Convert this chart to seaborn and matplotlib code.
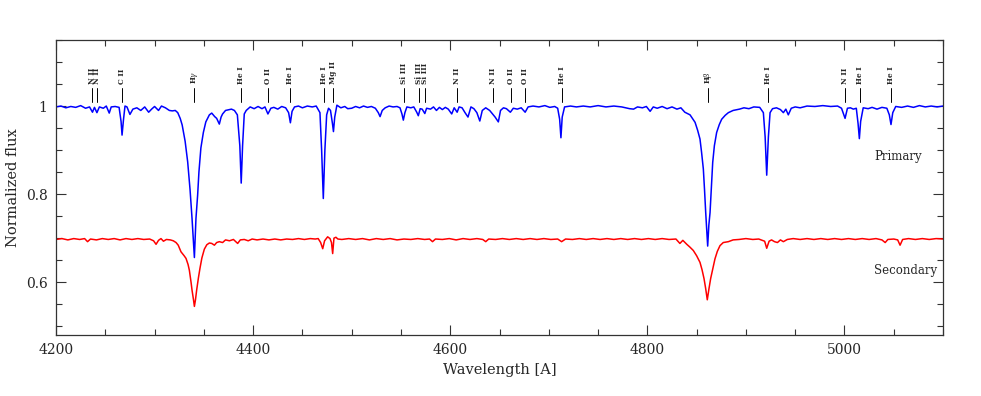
import matplotlib
matplotlib.use("Agg")
import matplotlib.pyplot as plt
import seaborn as sns
import pandas as pd
from matplotlib.ticker import MultipleLocator

# --- spectra (wavelength [A], normalized flux) ---
prim_wave = [
    4200, 4205, 4210, 4215, 4220, 4225, 4230, 4234, 4237, 4239, 4241.5, 4244, 4248, 4251, 4254, 4256,
    4260, 4264, 4266, 4267, 4268.5, 4270, 4272, 4275, 4278, 4282, 4286, 4290, 4294, 4297, 4300, 4304,
    4307, 4311, 4315, 4318, 4321, 4323.5, 4326, 4328, 4331, 4333.6, 4336, 4338, 4340.4, 4342, 4343.7,
    4345, 4347, 4349.5, 4352, 4355.6, 4358, 4361, 4363, 4365.7, 4367.5, 4369, 4372, 4375.8, 4378, 4381,
    4384, 4386.5, 4387.9, 4389.3, 4391, 4393, 4397, 4401, 4405, 4409, 4412, 4415, 4418, 4421, 4425,
    4429, 4433, 4436, 4437.8, 4439.5, 4442, 4446, 4450, 4455, 4460, 4464, 4467.8, 4469.5, 4471.2,
    4472.8, 4474.6, 4476.5, 4478.5, 4480.5, 4481.5, 4482.8, 4485, 4489, 4493, 4496, 4500, 4504, 4508,
    4512, 4516, 4520, 4524, 4527, 4528.8, 4531, 4534, 4538, 4542, 4546, 4549, 4551, 4552.4, 4554, 4556,
    4560, 4563, 4566, 4567.6, 4569.5, 4571.5, 4574.2, 4576, 4580, 4583, 4586, 4589, 4592, 4595, 4598,
    4601.5, 4604, 4607, 4609, 4612, 4615, 4618, 4621, 4624, 4627, 4630, 4632.5, 4636, 4640, 4643,
    4645.5, 4648.8, 4651, 4654, 4657, 4661, 4664, 4668, 4672, 4676, 4679, 4684, 4690, 4696, 4701, 4706,
    4709, 4711, 4712.3, 4713.6, 4716, 4722, 4728, 4735, 4742, 4750, 4758, 4766, 4774, 4782, 4786, 4790,
    4795, 4799, 4802.8, 4806, 4810, 4815, 4820, 4825, 4830, 4834, 4838, 4843.3, 4848.4, 4851, 4853.4,
    4855, 4856.8, 4858, 4859.2, 4861.2, 4862.4, 4863.6, 4865, 4866.3, 4868, 4870.3, 4873, 4875.4, 4879,
    4882.2, 4887, 4893.5, 4898, 4903, 4908, 4914, 4917.7, 4919.5, 4921.1, 4922.8, 4924.5, 4927, 4931,
    4935, 4938, 4940.5, 4943, 4946, 4950, 4955, 4962, 4970, 4978, 4986, 4993, 4997, 5000.6, 5003, 5006,
    5009, 5012, 5013.8, 5015.1, 5016.4, 5019, 5024, 5028, 5033, 5038, 5043, 5045.5, 5047.2, 5049, 5052,
    5058, 5064, 5070, 5076, 5082, 5088, 5094, 5100,
]
prim_flux = [
    0.998, 1.000, 0.996, 0.999, 0.997, 1.001, 0.995, 0.998, 0.986, 0.997, 0.985, 0.998, 0.995, 1.000, 0.984, 0.998,
    0.999, 0.997, 0.965, 0.934, 0.970, 1.000, 0.998, 0.981, 0.993, 0.996, 0.990, 0.998, 0.986, 0.993, 0.999, 0.990,
    1.000, 0.996, 0.990, 0.989, 0.990, 0.985, 0.972, 0.957, 0.920, 0.873, 0.810, 0.745, 0.656, 0.745, 0.798,
    0.850, 0.905, 0.940, 0.964, 0.980, 0.984, 0.976, 0.972, 0.959, 0.975, 0.982, 0.990, 0.992, 0.993, 0.990,
    0.980, 0.910, 0.825, 0.910, 0.982, 0.990, 0.998, 0.994, 0.999, 0.994, 0.998, 0.982, 0.995, 0.997, 0.993,
    0.999, 0.996, 0.985, 0.962, 0.988, 0.998, 1.000, 0.996, 1.000, 0.998, 1.000, 0.985, 0.900, 0.790,
    0.900, 0.980, 0.995, 0.990, 0.960, 0.942, 0.975, 1.002, 0.996, 0.999, 0.994, 0.995, 0.999, 0.996,
    1.000, 0.997, 0.999, 0.995, 0.985, 0.976, 0.990, 0.996, 1.000, 0.998, 0.999, 0.996, 0.982, 0.968, 0.985, 0.998,
    0.996, 0.998, 0.986, 0.978, 0.994, 0.993, 0.983, 0.995, 0.993, 0.998, 0.990, 0.997, 0.992, 0.997, 0.993,
    0.982, 0.996, 0.986, 0.998, 0.996, 0.985, 0.975, 0.998, 0.994, 0.985, 0.966, 0.990, 0.996, 0.990, 0.982,
    0.975, 0.964, 0.990, 0.996, 0.994, 0.986, 0.995, 0.993, 0.996, 0.986, 0.998, 1.000, 0.998, 1.001, 0.997, 0.999,
    0.995, 0.970, 0.928, 0.975, 0.998, 1.000, 0.998, 1.000, 0.998, 1.001, 0.998, 1.000, 0.998, 0.994, 0.993, 0.998,
    0.996, 0.999, 0.988, 0.998, 0.995, 0.999, 0.994, 0.998, 0.993, 0.996, 0.986, 0.980, 0.963, 0.945, 0.925,
    0.895, 0.857, 0.810, 0.758, 0.682, 0.730, 0.758, 0.818, 0.872, 0.910, 0.940, 0.958, 0.970, 0.979,
    0.985, 0.990, 0.993, 0.996, 0.994, 0.998, 0.997, 0.985, 0.930, 0.843, 0.930, 0.985, 0.994, 0.996,
    0.992, 0.985, 0.993, 0.980, 0.995, 0.998, 0.996, 1.000, 0.999, 1.001, 0.999, 1.000, 0.995, 0.972, 0.995, 0.996,
    0.993, 0.995, 0.960, 0.926, 0.965, 0.996, 0.994, 0.997, 0.993, 0.997, 0.995, 0.980, 0.958, 0.985, 0.999,
    0.997, 1.000, 0.997, 1.001, 0.998, 1.000, 0.998, 1.000,
]

sec_wave = [
    4200, 4206, 4212, 4218, 4224, 4229, 4232, 4235, 4241, 4247, 4253, 4259, 4265, 4271, 4277, 4283, 4289,
    4295, 4299, 4301.5, 4304, 4306.5, 4309, 4312, 4316, 4319, 4321.8, 4324, 4326.8, 4330, 4331.9, 4334,
    4335.3, 4337, 4338, 4339.5, 4340.4, 4341.5, 4342.7, 4344.5, 4346.1, 4348, 4350.5, 4353, 4355.6, 4358,
    4360.7, 4363, 4365.7, 4369, 4372, 4376, 4380, 4384.3, 4387, 4391, 4395, 4399, 4404, 4410, 4416, 4422,
    4428, 4434, 4440, 4446, 4452, 4458, 4463, 4466, 4468.5, 4470.6, 4472.5, 4475.6, 4478, 4479.5, 4480.7,
    4482, 4484, 4486, 4490, 4497, 4504, 4511, 4518, 4525, 4532, 4539, 4546, 4553, 4560, 4567, 4574, 4579,
    4582, 4585, 4592, 4599, 4606, 4613, 4620, 4627, 4633, 4636, 4639, 4646, 4653, 4660, 4667, 4674, 4681,
    4688, 4695, 4702, 4709, 4713, 4717, 4724, 4731, 4738, 4745, 4752, 4759, 4766, 4773, 4780, 4787, 4794,
    4801, 4808, 4815, 4822, 4829, 4833, 4836, 4840, 4843, 4846.6, 4850, 4853.4, 4855.5, 4857.5, 4859.2,
    4860.8, 4862.5, 4864.2, 4866.5, 4868.6, 4871, 4873.7, 4877, 4882.2, 4887, 4893, 4900, 4907, 4913,
    4919, 4921.1, 4923.5, 4926, 4929, 4932, 4935, 4938, 4942, 4948, 4955, 4962, 4969, 4976, 4983, 4990,
    4997, 5004, 5011, 5018, 5025, 5032, 5038, 5041.3, 5044, 5050, 5054, 5056.4, 5059, 5065, 5072, 5079,
    5086, 5093, 5100,
]
sec_flux = [
    0.697, 0.699, 0.696, 0.699, 0.697, 0.699, 0.692, 0.698, 0.696, 0.699, 0.697, 0.699, 0.696, 0.699, 0.697, 0.699, 0.697,
    0.698, 0.694, 0.686, 0.695, 0.699, 0.693, 0.697, 0.696, 0.694, 0.690, 0.684, 0.669, 0.660, 0.654, 0.640,
    0.627, 0.600, 0.582, 0.560, 0.545, 0.560, 0.582, 0.610, 0.632, 0.655, 0.675, 0.685, 0.689, 0.688,
    0.684, 0.690, 0.692, 0.690, 0.696, 0.694, 0.697, 0.688, 0.696, 0.697, 0.694, 0.698, 0.696, 0.698, 0.696, 0.698,
    0.696, 0.698, 0.697, 0.699, 0.697, 0.699, 0.698, 0.699, 0.690, 0.676, 0.694, 0.703, 0.699, 0.690, 0.665,
    0.700, 0.702, 0.698, 0.697, 0.699, 0.697, 0.699, 0.696, 0.699, 0.697, 0.699, 0.696, 0.698, 0.697, 0.699, 0.697, 0.698,
    0.692, 0.698, 0.697, 0.699, 0.696, 0.699, 0.697, 0.699, 0.697, 0.692, 0.698, 0.697, 0.699, 0.697, 0.699, 0.697, 0.699,
    0.697, 0.699, 0.697, 0.698, 0.692, 0.698, 0.697, 0.699, 0.697, 0.699, 0.697, 0.699, 0.697, 0.699, 0.697, 0.699, 0.697,
    0.699, 0.697, 0.699, 0.697, 0.698, 0.688, 0.695, 0.686, 0.680, 0.672, 0.660, 0.645, 0.628, 0.608, 0.585,
    0.560, 0.585, 0.608, 0.632, 0.653, 0.670, 0.683, 0.690, 0.692, 0.696, 0.697, 0.699, 0.697, 0.698,
    0.693, 0.677, 0.693, 0.696, 0.692, 0.690, 0.696, 0.692, 0.697, 0.699, 0.697, 0.699, 0.697, 0.699, 0.697, 0.699,
    0.697, 0.699, 0.697, 0.699, 0.697, 0.699, 0.696, 0.690, 0.697, 0.698, 0.696, 0.684, 0.697, 0.699, 0.697, 0.699,
    0.697, 0.699, 0.698,
]

# --- line identifications ---
line_wave = [4236.9, 4241.8, 4267.0, 4340.5, 4387.9, 4414.9, 4437.6, 4471.5, 4481.2,
             4552.6, 4567.8, 4574.8, 4607.2, 4643.1, 4661.6, 4676.2, 4713.1,
             4861.3, 4921.9, 5001.0, 5015.7, 5047.7]
line_label = ["N II", "N II", "C II", r"H$\gamma$", "He I", "O II", "He I", "He I", "Mg II",
              "Si III", "Si III", "Si III", "N II", "N II", "O II", "O II", "He I",
              r"H$\beta$", "He I", "N II", "He I", "He I"]

df_prim = pd.DataFrame({"wave": prim_wave, "flux": prim_flux})
df_sec = pd.DataFrame({"wave": sec_wave, "flux": sec_flux})

sns.set_style("ticks")
plt.rcParams["font.family"] = ["DejaVu Serif", "DejaVu Sans"]
plt.rcParams["mathtext.fontset"] = "dejavuserif"

fig = plt.figure(figsize=(9.81, 3.96), dpi=100)
ax = fig.add_axes([0.0571, 0.154, 0.9042, 0.745])

sns.lineplot(data=df_prim, x="wave", y="flux", color="#0000ff", lw=1.1, estimator=None, ax=ax)
sns.lineplot(data=df_sec, x="wave", y="flux", color="#ff0000", lw=1.1, estimator=None, ax=ax)

for w, lab in zip(line_wave, line_label):
    ax.plot([w, w], [1.009, 1.041], color="black", lw=0.7)
    ax.text(w, 1.049, lab, rotation=90, ha="center", va="bottom", fontsize=5.3, fontweight="bold")

ax.text(5030, 0.886, "Primary", fontsize=8.5, ha="left", va="center")
ax.text(5030, 0.627, "Secondary", fontsize=8.5, ha="left", va="center")

ax.set_xlim(4200, 5100)
ax.set_ylim(0.48, 1.15)
ax.xaxis.set_major_locator(MultipleLocator(200))
ax.xaxis.set_minor_locator(MultipleLocator(50))
ax.yaxis.set_major_locator(MultipleLocator(0.2))
ax.yaxis.set_minor_locator(MultipleLocator(0.05))
ax.set_yticks([0.6, 0.8, 1.0])
ax.set_yticklabels(["0.6", "0.8", "1"])
ax.tick_params(which="both", direction="in", top=True, right=True, labelsize=10, color="#333333")
ax.tick_params(which="major", length=7, width=0.8, pad=6)
ax.tick_params(which="minor", length=4, width=0.8)
for sp in ax.spines.values():
    sp.set_linewidth(0.9)
    sp.set_color("#333333")

ax.set_xlabel("Wavelength [A]", fontsize=10.5)
ax.set_ylabel("Normalized flux", fontsize=10.5)

fig.savefig("out.png", dpi=100)
